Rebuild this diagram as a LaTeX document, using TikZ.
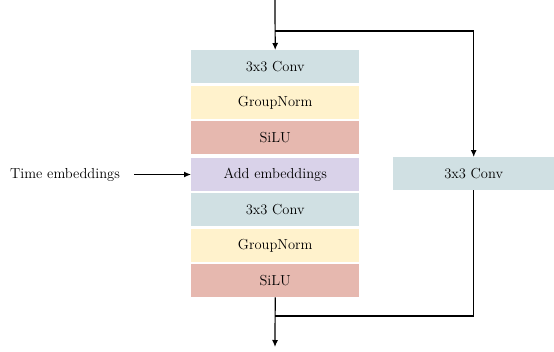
\documentclass[tikz,border=0pt]{standalone}
\usetikzlibrary{arrows.meta}
\definecolor{convc}{HTML}{D0E0E3}
\definecolor{normc}{HTML}{FFF2CC}
\definecolor{siluc}{HTML}{E6B8AF}
\definecolor{addc}{HTML}{D9D2E9}
\begin{document}
\begin{tikzpicture}[x=1pt,y=-1pt,
  blk/.style={minimum width=168pt,minimum height=33pt,inner sep=0pt,anchor=north west,font=\fontsize{14.5}{17}\selectfont},
  lbl/.style={font=\fontsize{14.5}{17}\selectfont},
  conn/.style={line width=1.2pt},
  arr/.style={conn,-{Latex[length=7pt,width=6pt]}}]
\useasboundingbox (0,0) rectangle (554,351);
\node[blk,fill=convc] (c1) at (191,50) {3x3 Conv};
\node[blk,fill=normc] (n1) at (191,86) {GroupNorm};
\node[blk,fill=siluc] (s1) at (191,121) {SiLU};
\node[blk,fill=addc] (ad) at (191,158) {Add embeddings};
\node[blk,fill=convc] (c2) at (191,193) {3x3 Conv};
\node[blk,fill=normc] (n2) at (191,229) {GroupNorm};
\node[blk,fill=siluc] (s2) at (191,264) {SiLU};
\node[blk,fill=convc,minimum width=161pt] (rc) at (393,157) {3x3 Conv};
\node[lbl] (te) at (65,174.5) {Time embeddings};
\coordinate (in) at (275,0);
\coordinate (br) at (275,31);
\coordinate (out) at (275,347);
\coordinate (jn) at (275,316);
\coordinate (ts) at (134,174.5);
\draw[arr] (in) -- (c1.north);
\draw[arr] (br) -| (rc.north);
\draw[conn] (rc.south) |- (jn);
\draw[arr] (s2.south) -- (out);
\draw[arr] (ts) -- (ts -| ad.west);
\end{tikzpicture}
\end{document}
